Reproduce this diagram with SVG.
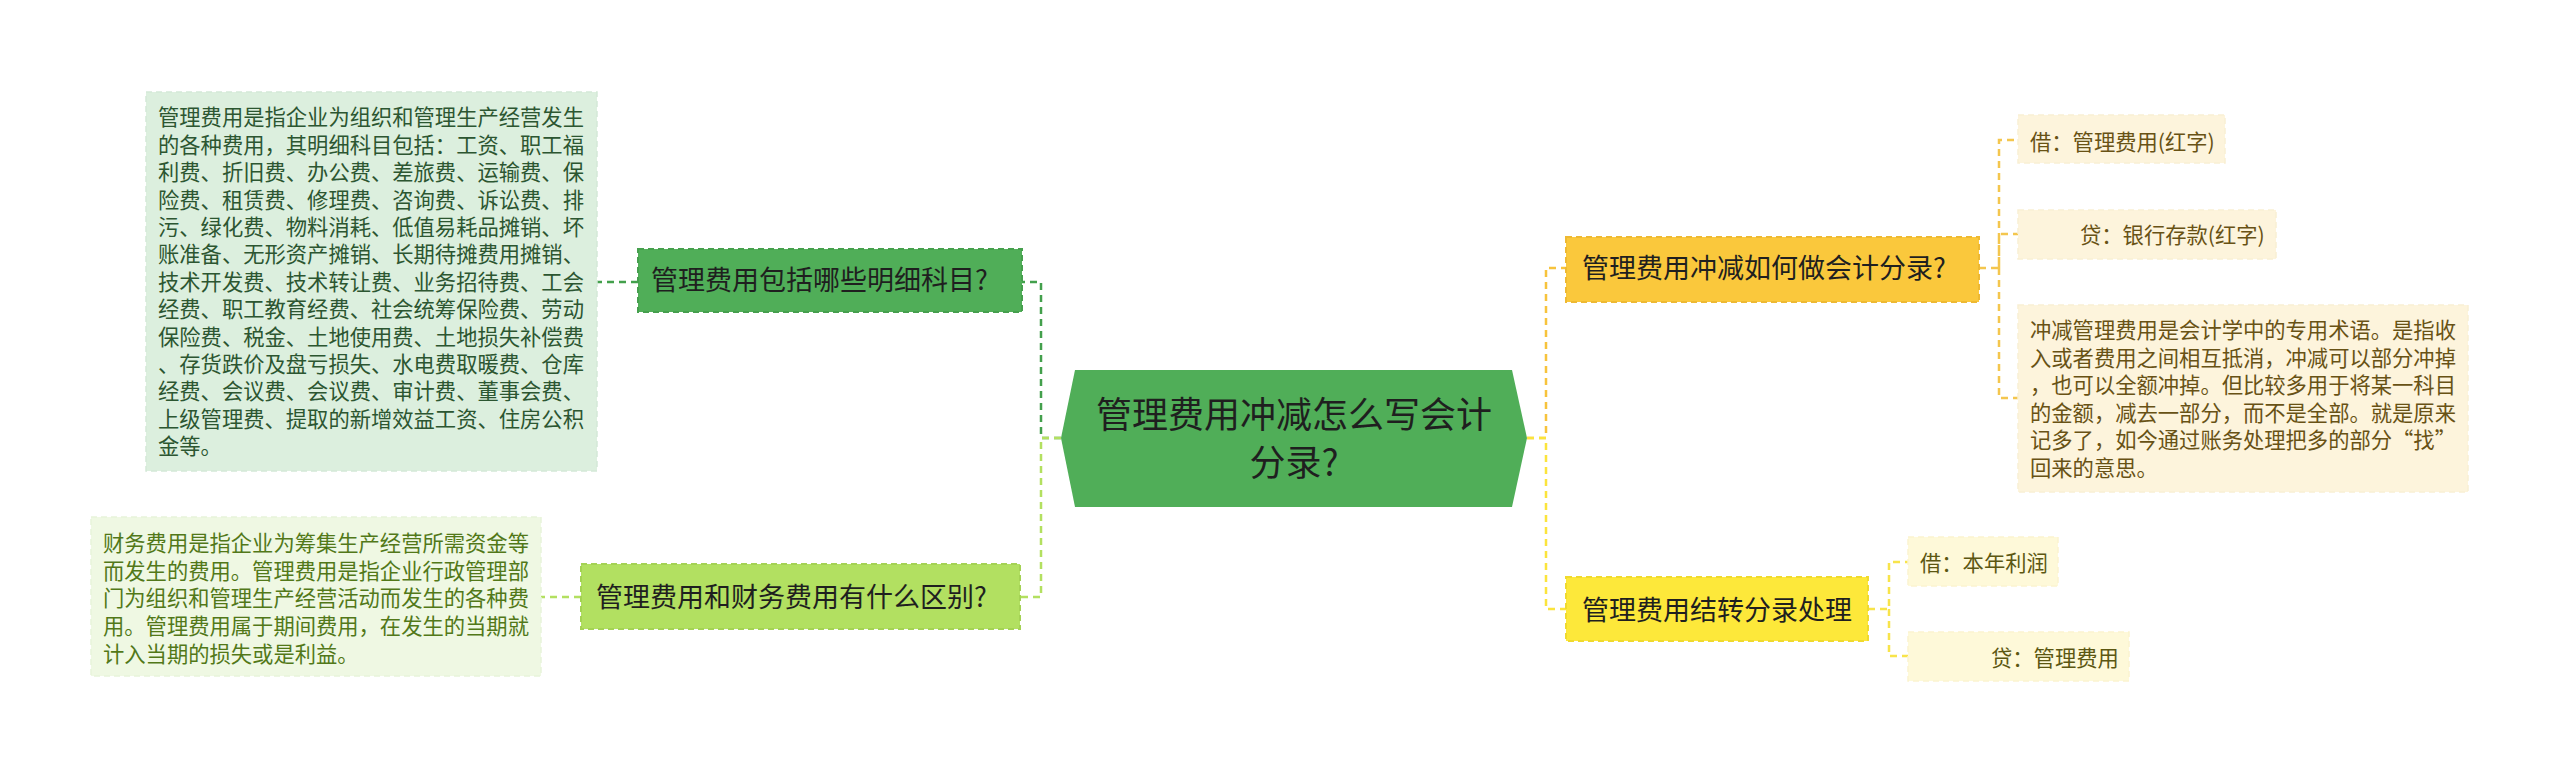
<svg xmlns="http://www.w3.org/2000/svg" width="2560" height="773" viewBox="0 0 2560 773">
<style>
text{font-family:"Noto Sans CJK SC","Noto Sans",sans-serif;}
.c{fill:none;stroke-width:2.5;stroke-dasharray:7 5;}
.n{font-size:27px;fill:#1f1f1f;}
.d{font-size:21.3px;}
.nb{stroke-width:2;stroke-dasharray:6 4;}
.db{stroke-width:1.5;stroke-dasharray:6 4;}
</style>
<rect width="2560" height="773" fill="#ffffff"/>
<g id="connectors">
<path class="c" stroke="#43a04c" d="M1061,438 H1041 V282 H1022"/>
<path class="c" stroke="#b3e060" d="M1061,438 H1041 V597 H1020"/>
<path class="c" stroke="#43a04c" d="M638,282 H597"/>
<path class="c" stroke="#b3e060" d="M581,597 H541"/>
<path class="c" stroke="#f7c33c" d="M1527,438 H1546 V268 H1566"/>
<path class="c" stroke="#fbe43c" d="M1527,438 H1546 V609 H1566"/>
<path class="c" stroke="#f4c64e" d="M1979,268 H1999 V140 H2018 M1999,268 V234 H2018 M1999,268 V398 H2018"/>
<path class="c" stroke="#f8e44a" d="M1868,609 H1889 V562 H1908 M1889,609 V656 H1908"/>
</g>
<g id="center">
<polygon points="1075,370 1512,370 1527,438 1512,507 1075,507 1061,438" fill="#50ae58"/>
<text x="1294" y="428" font-size="36" fill="#1f1f1f" text-anchor="middle">管理费用冲减怎么写会计</text>
<text x="1294" y="476" font-size="36" fill="#1f1f1f" text-anchor="middle">分录?</text>
</g>
<g id="node1">
<rect class="nb" x="638" y="249" width="384" height="63" fill="#50ae58" stroke="#46a04e"/>
<text class="n" x="651" y="290">管理费用包括哪些明细科目?</text>
</g>
<g id="node2">
<rect class="nb" x="581" y="564" width="439" height="65" fill="#b2e061" stroke="#a4d255"/>
<text class="n" x="596" y="607">管理费用和财务费用有什么区别?</text>
</g>
<g id="node3">
<rect class="nb" x="1566" y="237" width="413" height="65" fill="#fac83c" stroke="#eeb932"/>
<text class="n" x="1582" y="278">管理费用冲减如何做会计分录?</text>
</g>
<g id="node4">
<rect class="nb" x="1566" y="577" width="302" height="64" fill="#fde83a" stroke="#f0da2e"/>
<text class="n" x="1582" y="620">管理费用结转分录处理</text>
</g>
<g id="detail1">
<rect class="db" x="146" y="92" width="451" height="379" fill="#dcefde" stroke="#d4e9d7"/>
<text class="d" fill="#2c5631">
<tspan x="158" y="125.4">管理费用是指企业为组织和管理生产经营发生</tspan>
<tspan x="158" dy="27.4">的各种费用，其明细科目包括：工资、职工福</tspan>
<tspan x="158" dy="27.4">利费、折旧费、办公费、差旅费、运输费、保</tspan>
<tspan x="158" dy="27.4">险费、租赁费、修理费、咨询费、诉讼费、排</tspan>
<tspan x="158" dy="27.4">污、绿化费、物料消耗、低值易耗品摊销、坏</tspan>
<tspan x="158" dy="27.4">账准备、无形资产摊销、长期待摊费用摊销、</tspan>
<tspan x="158" dy="27.4">技术开发费、技术转让费、业务招待费、工会</tspan>
<tspan x="158" dy="27.4">经费、职工教育经费、社会统筹保险费、劳动</tspan>
<tspan x="158" dy="27.4">保险费、税金、土地使用费、土地损失补偿费</tspan>
<tspan x="158" dy="27.4">、存货跌价及盘亏损失、水电费取暖费、仓库</tspan>
<tspan x="158" dy="27.4">经费、会议费、会议费、审计费、董事会费、</tspan>
<tspan x="158" dy="27.4">上级管理费、提取的新增效益工资、住房公积</tspan>
<tspan x="158" dy="27.4">金等。</tspan>
</text>
</g>
<g id="detail2">
<rect class="db" x="91" y="517" width="450" height="159" fill="#eff8e3" stroke="#e8f3da"/>
<text class="d" fill="#527819">
<tspan x="103" y="551">财务费用是指企业为筹集生产经营所需资金等</tspan>
<tspan x="103" dy="27.7">而发生的费用。管理费用是指企业行政管理部</tspan>
<tspan x="103" dy="27.7">门为组织和管理生产经营活动而发生的各种费</tspan>
<tspan x="103" dy="27.7">用。管理费用属于期间费用，在发生的当期就</tspan>
<tspan x="103" dy="27.7">计入当期的损失或是利益。</tspan>
</text>
</g>
<g id="child-a">
<rect class="db" x="2018" y="115" width="207" height="48" fill="#fdf4dc" stroke="#f9efd3"/>
<text class="d" x="2030" y="150" fill="#685215">借：管理费用(红字)</text>
</g>
<g id="child-b">
<rect class="db" x="2018" y="210" width="258" height="49" fill="#fdf4dc" stroke="#f9efd3"/>
<text class="d" x="2080" y="243" fill="#685215">贷：银行存款(红字)</text>
</g>
<g id="child-c">
<rect class="db" x="2018" y="305" width="450" height="187" fill="#fdf4dc" stroke="#f9efd3"/>
<text class="d" fill="#685215">
<tspan x="2030" y="338">冲减管理费用是会计学中的专用术语。是指收</tspan>
<tspan x="2030" dy="27.6">入或者费用之间相互抵消，冲减可以部分冲掉</tspan>
<tspan x="2030" dy="27.6">，也可以全额冲掉。但比较多用于将某一科目</tspan>
<tspan x="2030" dy="27.6">的金额，减去一部分，而不是全部。就是原来</tspan>
<tspan x="2030" dy="27.6">记多了，如今通过账务处理把多的部分“找”</tspan>
<tspan x="2030" dy="27.6">回来的意思。</tspan>
</text>
</g>
<g id="child-d">
<rect class="db" x="1908" y="537" width="150" height="49" fill="#fef9d9" stroke="#fbf4cf"/>
<text class="d" x="1920" y="571" fill="#5c5712">借：本年利润</text>
</g>
<g id="child-e">
<rect class="db" x="1908" y="632" width="221" height="49" fill="#fef9d9" stroke="#fbf4cf"/>
<text class="d" x="1991" y="666" fill="#5c5712">贷：管理费用</text>
</g>
</svg>
